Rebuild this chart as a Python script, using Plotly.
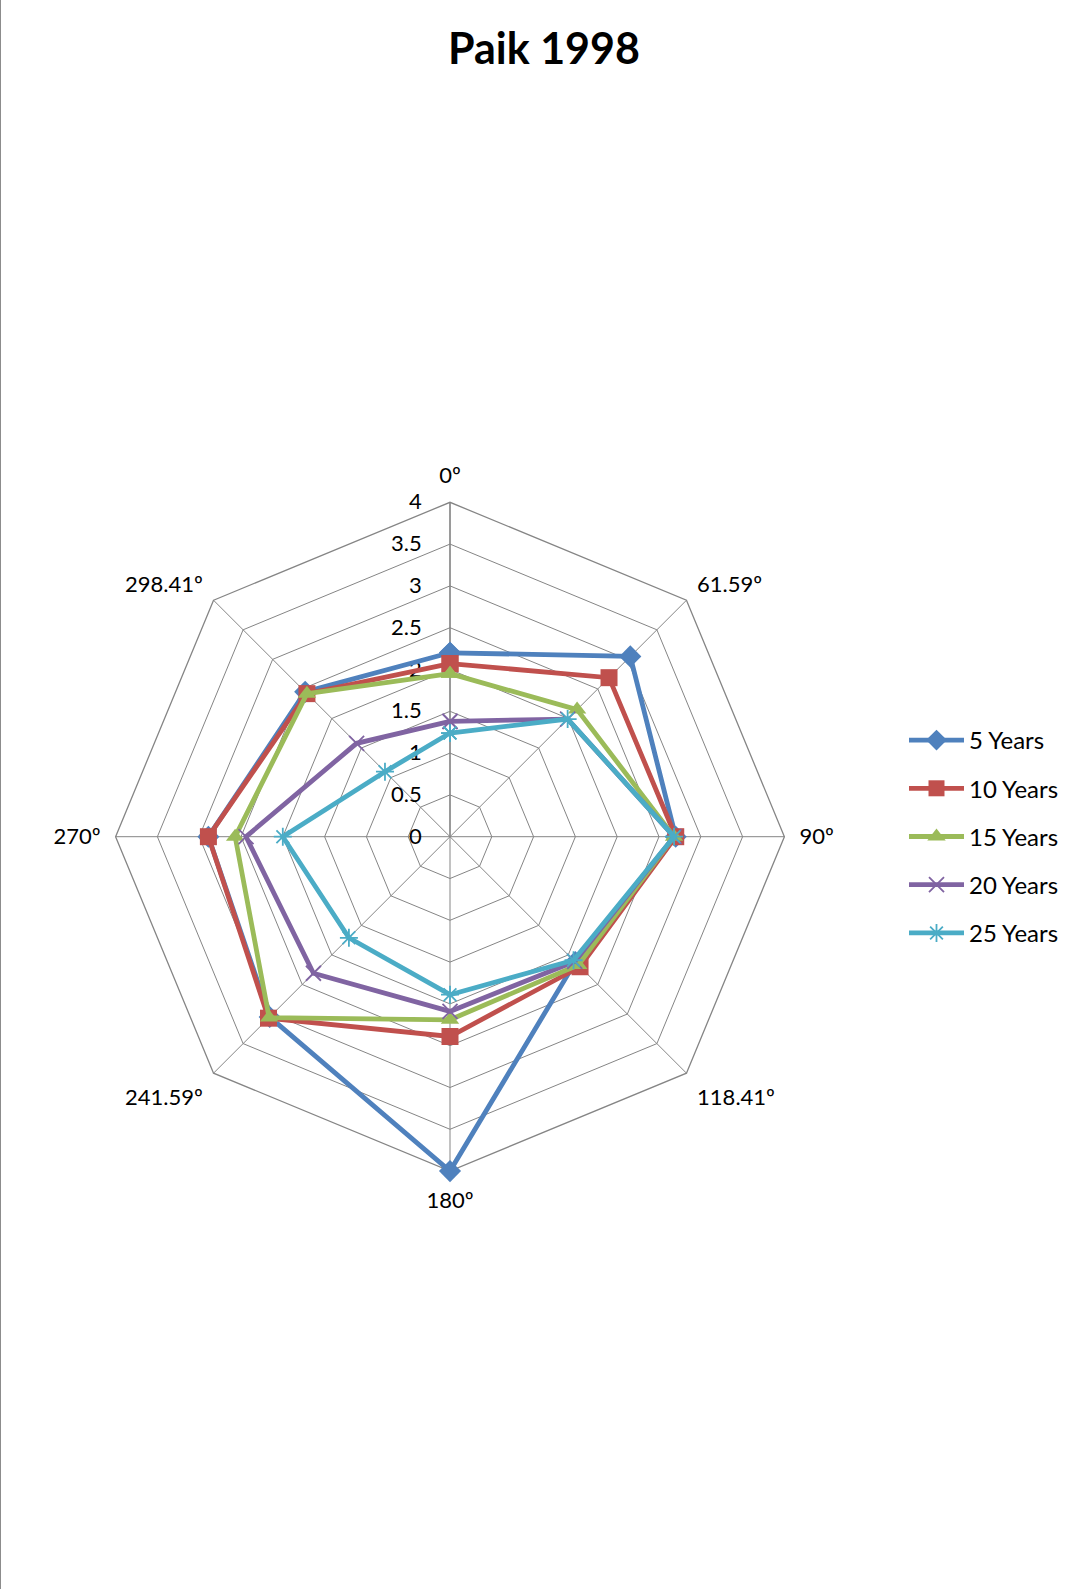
import plotly.graph_objects as go

# Directions (category axis of the radar) and the radius values per duration
directions = ["0º", "61.59º", "90º", "118.41º", "180º", "241.59º", "270º", "298.41º"]

years_5 = [2.20, 3.05, 2.70, 2.12, 4.00, 3.05, 2.89, 2.45]
years_10 = [2.07, 2.69, 2.70, 2.20, 2.39, 3.07, 2.89, 2.42]
years_15 = [1.95, 2.15, 2.68, 2.17, 2.19, 3.06, 2.57, 2.42]
years_20 = [1.38, 1.99, 2.68, 2.11, 2.09, 2.31, 2.44, 1.58]
years_25 = [1.24, 1.99, 2.68, 2.09, 1.89, 1.71, 2.00, 1.10]

series_names = ["5 Years", "10 Years", "15 Years", "20 Years", "25 Years"]
series_values = [years_5, years_10, years_15, years_20, years_25]
series_colors = ["#4F81BD", "#C0504D", "#9BBB59", "#8064A2", "#4BACC6"]
series_symbols = ["diamond", "square", "triangle-up", "x-thin-open", "asterisk-open"]
series_sizes = [17, 17, 16, 15, 15]

radial_ticks = [0, 0.5, 1, 1.5, 2, 2.5, 3, 3.5, 4]
radial_labels = ["0", "0.5", "1", "1.5", "2", "2.5", "3", "3.5", "4"]

FONT = "Lato"
GRID = "#858585"

fig = go.Figure()
for i, (name, vals) in enumerate(zip(series_names, series_values)):
    thin = series_symbols[i].endswith("open")
    fig.add_trace(go.Scatterpolar(
        r=vals + vals[:1],
        theta=directions + directions[:1],
        mode="lines+markers",
        name=name,
        legendgroup=name,
        line=dict(color=series_colors[i], width=4.8),
        marker=dict(
            symbol=series_symbols[i],
            size=series_sizes[i],
            color=series_colors[i],
            line=dict(color=series_colors[i], width=1.8 if thin else 0),
        ),
    ))

W, H = 1085, 1589
cx, cy, rad = 450, 836.7, 334.4

fig.update_layout(
    width=W, height=H,
    margin=dict(l=0, r=0, t=0, b=0),
    paper_bgcolor="white",
    plot_bgcolor="white",
    font=dict(family=FONT, size=22, color="#000000"),
    title=dict(
        text="<b>Paik 1998</b>",
        x=544 / W, xanchor="center",
        y=1 - 49 / H, yanchor="middle",
        font=dict(family=FONT, size=43, color="#000000"),
    ),
    polar=dict(
        domain=dict(
            x=[(cx - rad) / W, (cx + rad) / W],
            y=[1 - (cy + rad) / H, 1 - (cy - rad) / H],
        ),
        bgcolor="white",
        gridshape="linear",
        radialaxis=dict(
            range=[0, 4],
            tickvals=radial_ticks,
            ticktext=radial_labels,
            angle=90,
            tickangle=90,
            side="counterclockwise",
            showline=True,
            linecolor=GRID,
            linewidth=1.3,
            gridcolor=GRID,
            gridwidth=1.3,
            ticks="outside",
            ticklen=20,
            tickcolor="rgba(0,0,0,0)",
            tickfont=dict(family=FONT, size=22, color="#000000"),
            layer="below traces",
        ),
        angularaxis=dict(
            type="category",
            categoryarray=directions,
            rotation=90,
            direction="clockwise",
            showline=True,
            linecolor=GRID,
            linewidth=1.3,
            gridcolor=GRID,
            gridwidth=1.3,
            ticks="outside",
            ticklen=10,
            tickcolor="rgba(0,0,0,0)",
            tickfont=dict(family=FONT, size=22, color="#000000"),
            layer="below traces",
        ),
    ),
    legend=dict(
        x=904 / W, xanchor="left",
        y=1 - 718 / H, yanchor="top",
        font=dict(family=FONT, size=24, color="#000000"),
        itemwidth=55,
        tracegroupgap=14,
        bgcolor="rgba(0,0,0,0)",
    ),
    shapes=[dict(
        type="line", xref="paper", yref="paper",
        x0=0, x1=0, y0=0, y1=1,
        line=dict(color="#8C8C8C", width=2),
    )],
)

fig.write_html("out.html")
